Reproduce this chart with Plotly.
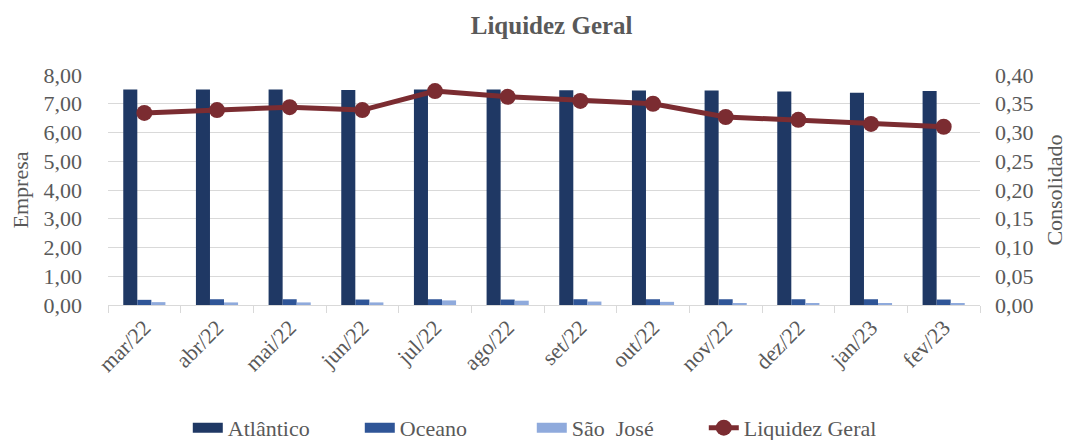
import plotly.graph_objects as go

meses = ["mar/22", "abr/22", "mai/22", "jun/22", "jul/22", "ago/22",
         "set/22", "out/22", "nov/22", "dez/22", "jan/23", "fev/23"]
atlantico = [7.50, 7.50, 7.50, 7.48, 7.50, 7.50, 7.47, 7.46, 7.46, 7.43, 7.38, 7.44]
oceano = [0.18, 0.20, 0.20, 0.19, 0.20, 0.19, 0.20, 0.20, 0.20, 0.20, 0.20, 0.19]
sao_jose = [0.10, 0.09, 0.09, 0.09, 0.16, 0.15, 0.12, 0.11, 0.06, 0.06, 0.06, 0.06]
liquidez_geral = [0.334, 0.339, 0.344, 0.339, 0.372, 0.362, 0.355, 0.350, 0.327, 0.322, 0.315, 0.310]

fonte = "Liberation Serif"
cinza = "#595959"
tam = 22

fig = go.Figure()

for nome, valores, cor in [("Atlântico", atlantico, "#1F3864"),
                           ("Oceano", oceano, "#2F5597"),
                           ("São  José", sao_jose, "#8FAADC")]:
    fig.add_trace(go.Bar(name=nome, x=meses, y=valores, marker_color=cor,
                         marker_line_width=0, showlegend=False))
    # entrada de legenda com símbolo retangular largo
    fig.add_trace(go.Scatter(name=nome, x=[meses[0]], y=[None], mode="lines",
                             line=dict(color=cor, width=14), hoverinfo="skip"))

fig.add_trace(go.Scatter(
    name="Liquidez Geral", x=meses, y=liquidez_geral, yaxis="y2",
    mode="lines+markers",
    line=dict(color="#7B2C31", width=5),
    marker=dict(size=16, color="#7B2C31"),
))

# a página tem 8px de margem no body: figura um pouco menor que a janela
fig.update_layout(
    title=dict(text="<b>Liquidez Geral</b>", x=0.510, xanchor="center",
               y=0.961, yanchor="middle",
               font=dict(size=25, color=cinza, family=fonte)),
    barmode="group",
    bargap=0.42,
    bargroupgap=0,
    separators=",.",
    font=dict(family=fonte, size=tam, color=cinza),
    xaxis=dict(tickangle=-45, ticks="outside", tickson="boundaries",
               range=[-0.5, len(meses) - 0.5],
               ticklen=7, tickcolor="#d9d9d9", showline=True,
               linecolor="#d9d9d9", linewidth=1, automargin=False,
               tickfont=dict(size=tam, color=cinza, family=fonte)),
    yaxis=dict(title=dict(text="Empresa", standoff=10,
                          font=dict(size=tam, color=cinza, family=fonte)),
               range=[0, 8], dtick=1, tickformat=".2f", ticklabelstandoff=25,
               gridcolor="#d9d9d9", zeroline=False, automargin=False,
               tickfont=dict(size=tam, color=cinza, family=fonte)),
    yaxis2=dict(title=dict(text="Consolidado", standoff=14,
                           font=dict(size=tam, color=cinza, family=fonte)),
                overlaying="y", side="right", range=[0, 0.4], dtick=0.05,
                tickformat=".2f", showgrid=False, zeroline=False,
                automargin=False, ticklabelstandoff=14,
                tickfont=dict(size=tam, color=cinza, family=fonte)),
    legend=dict(orientation="h", x=0.486, xanchor="center",
                yref="container", y=0.028, yanchor="middle",
                font=dict(size=tam, color=cinza, family=fonte),
                entrywidth=127, tracegroupgap=0),
    plot_bgcolor="white",
    paper_bgcolor="white",
    width=1066, height=432,
    margin=dict(l=100, r=94, t=67, b=135),
)

fig.write_html("out.html")
